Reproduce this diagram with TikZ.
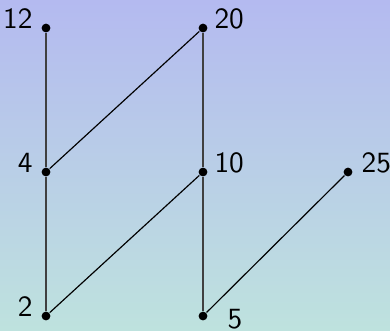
\documentclass[tikz,border=0pt]{standalone}
\usepackage{tikz}
\definecolor{bgtop}{RGB}{180,186,240}
\definecolor{bgbot}{RGB}{190,226,222}

\begin{document}
\begin{tikzpicture}[x=0.012cm,y=-0.012cm]

\tikzset{
  poset node/.style={
    circle,
    fill=black,
    inner sep=0pt,
    minimum size=3pt,
  },
  num/.style={
    font=\sffamily,
    inner sep=0pt,
  }
}

% Background
\shade[top color=bgtop, bottom color=bgbot] (0,0) rectangle (390,330);
\useasboundingbox (0,0) rectangle (390,330);

% Level 0
\node[poset node] (two) at (46,316) {};
\node[poset node] (five) at (203,316) {};

% Level 1
\node[poset node] (four) at (46,172) {};
\node[poset node] (ten) at (203,172) {};
\node[poset node] (tf) at (348,172) {};

% Level 2
\node[poset node] (twelve) at (46,28) {};
\node[poset node] (twenty) at (203,28) {};

% Labels
\node[num, anchor=base east] (l12) at (33,28) {12};
\node[num, anchor=base west] (l20) at (214,28) {20};
\node[num, anchor=base east] (l4) at (33,172) {4};
\node[num, anchor=base west] (l10) at (214,172) {10};
\node[num, anchor=base west] (l25) at (361,172) {25};
\node[num, anchor=base east] (l2) at (33,316) {2};
\node[num, anchor=base west] (l5) at (227,328) {5};

% Edges
\draw[black!75] (two) -- (four);
\draw[black!75] (four) -- (twelve);
\draw (four) -- (twenty);
\draw[black!75] (twenty) -- (ten);
\draw (two) -- (ten);
\draw[black!75] (ten) -- (five);
\draw (five) -- (tf);

\end{tikzpicture}
\end{document}
